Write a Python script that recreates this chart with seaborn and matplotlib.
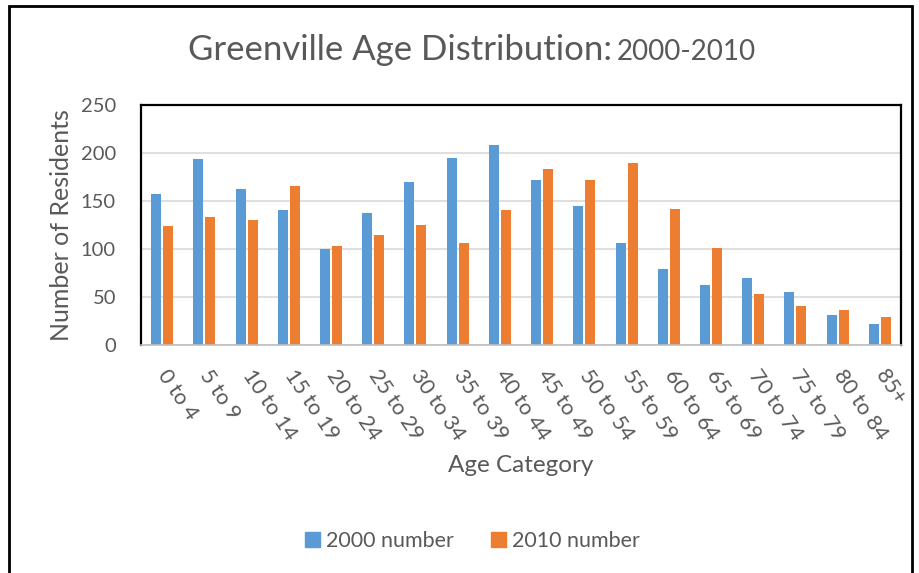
import matplotlib
matplotlib.use("Agg")
from matplotlib import pyplot as plt
from matplotlib.patches import Patch, Rectangle
import pandas as pd
import seaborn as sns

# chart data
age_groups = ['0 to 4', '5 to 9', '10 to 14', '15 to 19', '20 to 24', '25 to 29',
              '30 to 34', '35 to 39', '40 to 44', '45 to 49', '50 to 54', '55 to 59',
              '60 to 64', '65 to 69', '70 to 74', '75 to 79', '80 to 84', '85+']
count_2000 = [157, 194, 163, 141, 100, 137, 170, 195, 208, 172, 145, 106,
              79, 63, 70, 55, 31, 22]
count_2010 = [124, 133, 130, 166, 103, 115, 125, 106, 141, 183, 172, 190,
              142, 101, 53, 41, 36, 29]
series_names = ['2000 number', '2010 number']
series_colors = ['#5B9BD5', '#ED7D31']

df = pd.DataFrame({
    'age': age_groups * 2,
    'residents': count_2000 + count_2010,
    'series': [series_names[0]] * len(age_groups) + [series_names[1]] * len(age_groups),
})

sns.set_style('white')
plt.rcParams['font.family'] = ['Lato', 'DejaVu Sans']
text_color = '#595959'

fig = plt.figure(figsize=(9.19, 5.73), dpi=100)
ax = fig.add_axes([0.1534, 0.3979, 0.8270, 0.4188])

sns.barplot(data=df, x='age', y='residents', hue='series', order=age_groups,
            hue_order=series_names, palette=series_colors, saturation=1,
            width=0.57, gap=0.17, linewidth=0, legend=False, ax=ax)

ax.set_ylim(0, 250)
ax.set_xlim(-0.5, len(age_groups) - 0.5)
ax.set_yticks([0, 50, 100, 150, 200, 250])
ax.yaxis.grid(True, color='#D9D9D9', linewidth=1.2)
ax.set_axisbelow(True)
ax.tick_params(axis='both', length=0, colors=text_color, labelsize=14.5)
ax.tick_params(axis='y', pad=18)
ax.tick_params(axis='x', pad=19)

for lab in ax.get_xticklabels():
    lab.set_rotation(-56)
    lab.set_ha('left')
    lab.set_va('center')
    lab.set_rotation_mode('anchor')
    lab.set_fontsize(15.5)

for side in ['left', 'top', 'right']:
    ax.spines[side].set_color('black')
    ax.spines[side].set_linewidth(1.6)
ax.spines['bottom'].set_color('#BFBFBF')
ax.spines['bottom'].set_linewidth(1.2)

ax.set_xlabel('Age Category', fontsize=17.5, color=text_color)
ax.set_ylabel('Number of Residents', fontsize=18, color=text_color)
ax.xaxis.set_label_coords(0.5, -0.46)
ax.yaxis.set_label_coords(-0.09, 0.5)

# title in two sizes, like the original
t1 = fig.text(0.2046, 0.895, 'Greenville Age Distribution:', fontsize=25,
              color=text_color, ha='left', va='baseline')
fig.canvas.draw()
bb = t1.get_window_extent(renderer=fig.canvas.get_renderer())
fig.text(bb.x1 / fig.bbox.width + 0.005, 0.895, '2000-2010', fontsize=20,
         color=text_color, ha='left', va='baseline')

handles = [Patch(color=c, label=n) for c, n in zip(series_colors, series_names)]
fig.legend(handles=handles, loc='center', bbox_to_anchor=(0.514, 1 - 541 / 573),
           ncol=2, frameon=False, fontsize=15.5, handlelength=0.7, handleheight=0.7,
           handletextpad=0.3, columnspacing=1.7, labelcolor=text_color)

# outer chart frame
fig.patches.append(Rectangle((9 / 919, -0.05), 903 / 919, 1.05 - 6 / 573,
                             transform=fig.transFigure, fill=False,
                             edgecolor='black', linewidth=2))

fig.savefig('out.png', dpi=100)
